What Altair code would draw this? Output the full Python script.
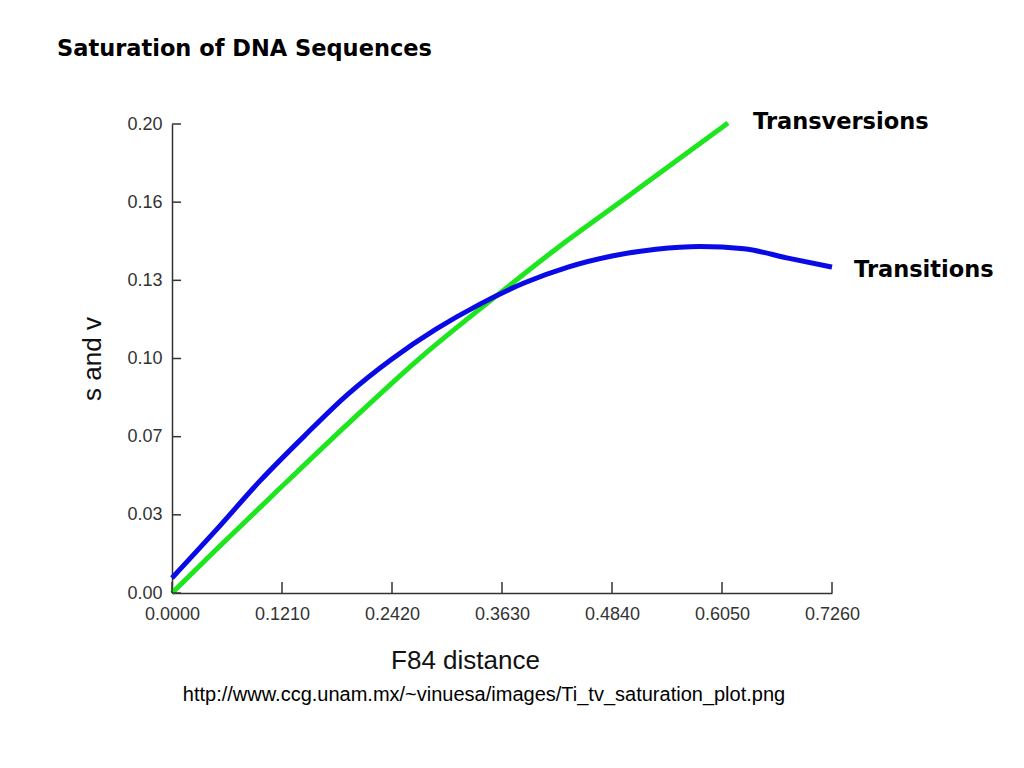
import json
import altair as alt
import pandas as pd

# ---- data ----
x_ticks = [0.0, 0.121, 0.242, 0.363, 0.484, 0.605, 0.726]
y_ticks = [0.0, 0.2 / 6, 0.4 / 6, 0.1, 0.8 / 6, 1.0 / 6, 0.2]
y_tick_labels = ["0.00", "0.03", "0.07", "0.10", "0.13", "0.16", "0.20"]

tv_x = [0.0, 0.0473, 0.121, 0.1958, 0.2728, 0.3627, 0.4268, 0.4961, 0.5511, 0.6116]
tv_y = [0.0, 0.0180, 0.0455, 0.0730, 0.1002, 0.1285, 0.1480, 0.1676, 0.1833, 0.2004]

ts_x = [0.0, 0.0484, 0.0968, 0.1452, 0.1936, 0.2420, 0.2904, 0.3388, 0.3872, 0.4356,
        0.4840, 0.5324, 0.5808, 0.6292, 0.6776, 0.7260]
ts_y = [0.0064, 0.0268, 0.0478, 0.0668, 0.0848, 0.0998, 0.1125, 0.1232, 0.1322, 0.1390,
        0.1437, 0.1466, 0.1478, 0.1468, 0.1428, 0.1390]

series_names = ["Transversions", "Transitions"]
series_colors = ["#1ee61e", "#0a0ae6"]
title_text = "Saturation of DNA Sequences"
x_title = "F84 distance"
y_title = "s and v"
source_text = "http://www.ccg.unam.mx/~vinuesa/images/Ti_tv_saturation_plot.png"

# ---- tables ----
df = pd.concat([
    pd.DataFrame({"x": tv_x, "y": tv_y, "series": series_names[0], "o": range(len(tv_x))}),
    pd.DataFrame({"x": ts_x, "y": ts_y, "series": series_names[1], "o": range(len(ts_x))}),
])
tv_end = pd.DataFrame({"x": [tv_x[-1]], "y": [tv_y[-1]], "t": [series_names[0]]})
ts_end = pd.DataFrame({"x": [ts_x[-1]], "y": [ts_y[-1]], "t": [series_names[1]]})

W, H = 660, 469
AX = "#333333"

xscale = alt.Scale(domain=[0, 0.726], nice=False, zero=False)
yscale = alt.Scale(domain=[0, 0.2], nice=False, zero=False)

label_expr = json.dumps(y_tick_labels) + "[round(datum.value * 30)]"

lines = alt.Chart(df).mark_line(strokeWidth=5, interpolate="monotone").encode(
    x=alt.X("x:Q", scale=xscale, axis=alt.Axis(
        values=x_ticks, format=".4f", ticks=False, grid=False,
        domainColor=AX, domainWidth=1.5,
        labelFont="Liberation Sans", labelFontSize=18, labelColor=AX,
        labelPadding=12, labelFlush=False, labelOverlap=False,
        title=x_title, titleFont="Liberation Sans", titleFontSize=26,
        titleFontWeight="normal", titleColor="#111111",
        titleX=293, titleY=67, titleAlign="center", titleBaseline="middle")),
    y=alt.Y("y:Q", scale=yscale, axis=alt.Axis(
        values=y_ticks, labelExpr=label_expr, ticks=False, grid=False,
        domainColor=AX, domainWidth=1.5,
        labelFont="Liberation Sans", labelFontSize=18, labelColor=AX,
        labelPadding=10, labelFlush=False, labelOverlap=False,
        title=y_title, titleFont="Liberation Sans", titleFontSize=26,
        titleFontWeight="normal", titleColor="#111111", titleAngle=270,
        titleX=-80, titleY=H / 2, titleAlign="center", titleBaseline="middle")),
    color=alt.Color("series:N", scale=alt.Scale(domain=series_names, range=series_colors), legend=None),
    order="o:Q",
)

ytick_rules = alt.Chart(pd.DataFrame({"y": y_ticks})).mark_rule(color=AX, strokeWidth=1.5).encode(
    y=alt.Y("y:Q", scale=yscale), x=alt.value(0), x2=alt.value(9))
xtick_rules = alt.Chart(pd.DataFrame({"x": x_ticks})).mark_rule(color=AX, strokeWidth=1.5).encode(
    x=alt.X("x:Q", scale=xscale), y=alt.value(H), y2=alt.value(H - 11))

lab_style = dict(font="DejaVu Sans", fontSize=22.5, fontWeight="bold", color="black",
                 align="left", baseline="middle")
tv_label = alt.Chart(tv_end).mark_text(dx=25, dy=-1, **lab_style).encode(
    x=alt.X("x:Q", scale=xscale), y=alt.Y("y:Q", scale=yscale), text="t:N")
ts_label = alt.Chart(ts_end).mark_text(dx=22, dy=3, **lab_style).encode(
    x=alt.X("x:Q", scale=xscale), y=alt.Y("y:Q", scale=yscale), text="t:N")

source = alt.Chart(pd.DataFrame({"t": [source_text]})).mark_text(
    font="Liberation Sans", fontSize=20, color="black", align="center", baseline="middle"
).encode(text="t:N", x=alt.value(312), y=alt.value(571))

chart = alt.layer(lines, ytick_rules, xtick_rules, tv_label, ts_label, source).properties(
    width=W, height=H,
    background="white",
    title=alt.TitleParams(title_text, anchor="start", frame="group", dx=-115, offset=51,
                          font="DejaVu Sans", fontSize=22.5, fontWeight="bold", color="black"),
    autosize=alt.AutoSizeParams(type="none"),
    padding={"left": 164, "top": 116, "right": 180, "bottom": 130},
).configure_view(strokeWidth=0, stroke="transparent")

chart.save("out.html", embed_options={"renderer": "svg", "actions": False})
